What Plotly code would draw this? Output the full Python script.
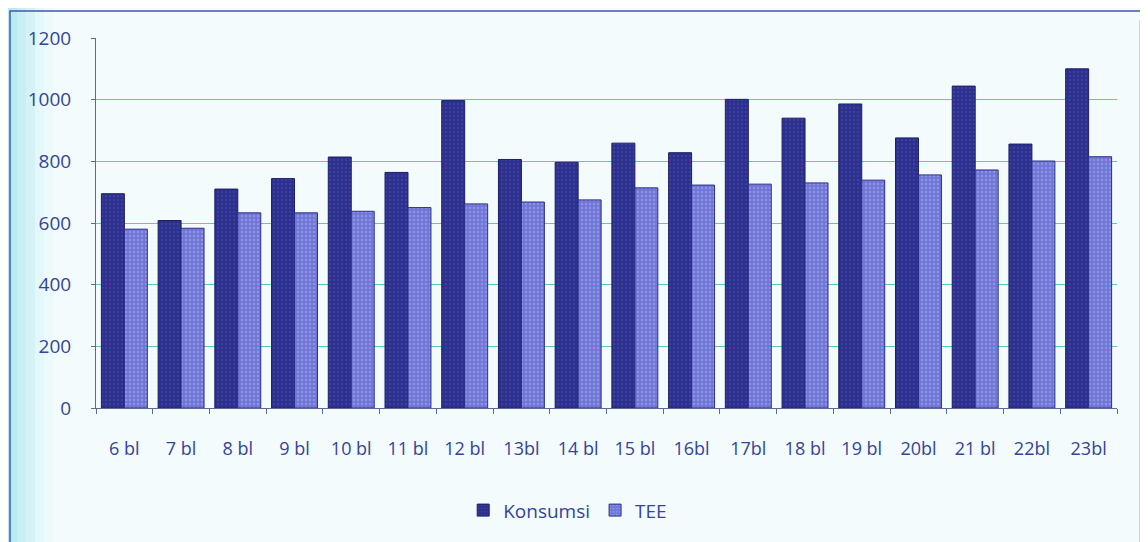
import plotly.graph_objects as go

categories = ["6 bl", "7 bl", "8 bl", "9 bl", "10 bl", "11 bl", "12 bl", "13bl", "14 bl",
              "15 bl", "16bl", "17bl", "18 bl", "19 bl", "20bl", "21 bl", "22bl", "23bl"]
konsumsi = [695, 608, 710, 744, 814, 764, 997, 806, 797, 859, 828, 1001, 940, 986, 876, 1044, 856, 1100]
tee = [580, 583, 633, 633, 638, 650, 662, 668, 675, 714, 723, 726, 730, 739, 756, 772, 801, 815]

fig = go.Figure()
fig.add_trace(go.Bar(
    x=categories, y=konsumsi, name="Konsumsi",
    marker=dict(color="#2c2f8c", line=dict(color="#1c1f66", width=1),
                pattern=dict(shape=".", fgcolor="#4a50b0", size=4, solidity=0.3)),
))
fig.add_trace(go.Bar(
    x=categories, y=tee, name="TEE",
    marker=dict(color="#7076d6", line=dict(color="#2c2f8c", width=1),
                pattern=dict(shape=".", fgcolor="#a9adeb", size=4, solidity=0.3)),
))

PW, PH = 1021.0, 370.0


def px(x):
    return (x - 96) / PW


def py(y):
    return (408 - y) / PH


shapes = []
# left cyan gradient strip
for i, op in enumerate([0.6, 0.5, 0.4, 0.3, 0.2, 0.1]):
    shapes.append(dict(type="rect", xref="paper", yref="paper",
                       x0=px(-10), x1=px(8 + i * 9), y0=py(560), y1=py(-10),
                       fillcolor="#8fe3ec", opacity=op * 0.5, line=dict(width=0), layer="below"))
# outer frame
shapes.append(dict(type="rect", xref="paper", yref="paper",
                   x0=px(10), x1=px(1141), y0=py(545), y1=py(11),
                   line=dict(color="#4a56a8", width=1.5), layer="below"))
shapes.append(dict(type="line", xref="paper", yref="paper",
                   x0=px(1141), x1=px(1141), y0=py(545), y1=py(20),
                   line=dict(color="#4a63d8", width=2.5)))

fig.update_layout(
    width=1148, height=542,
    margin=dict(l=88, r=39, t=30, b=142),
    paper_bgcolor="#f3fbfc",
    plot_bgcolor="rgba(0,0,0,0)",
    barmode="group", bargap=0.19, bargroupgap=0.0,
    font=dict(family="Open Sans, DejaVu Sans, sans-serif", color="#34449a"),
    showlegend=True,
    legend=dict(orientation="h", x=0.462, xanchor="center", y=-0.225, yanchor="top",
                font=dict(size=19, color="#34449a"), itemwidth=30,
                bgcolor="rgba(0,0,0,0)"),
    shapes=shapes,
)
fig.update_yaxes(
    range=[0, 1200], dtick=200, showgrid=True, gridcolor="#5cc6cc", gridwidth=1,
    showline=True, linecolor="#5b6a98", linewidth=1, ticks="outside", ticklen=4,
    tickcolor="#5b6a98", tickfont=dict(size=19, color="#34449a"), zeroline=False,
    ticklabelstandoff=16,
)
fig.update_xaxes(
    showline=True, linecolor="#5b6a98", linewidth=1, ticks="outside", ticklen=5,
    tickcolor="#5b6a98", tickson="boundaries", tickfont=dict(size=18, color="#34449a"),
    showgrid=False, ticklabelstandoff=24,
)

fig.write_html("out.html")
